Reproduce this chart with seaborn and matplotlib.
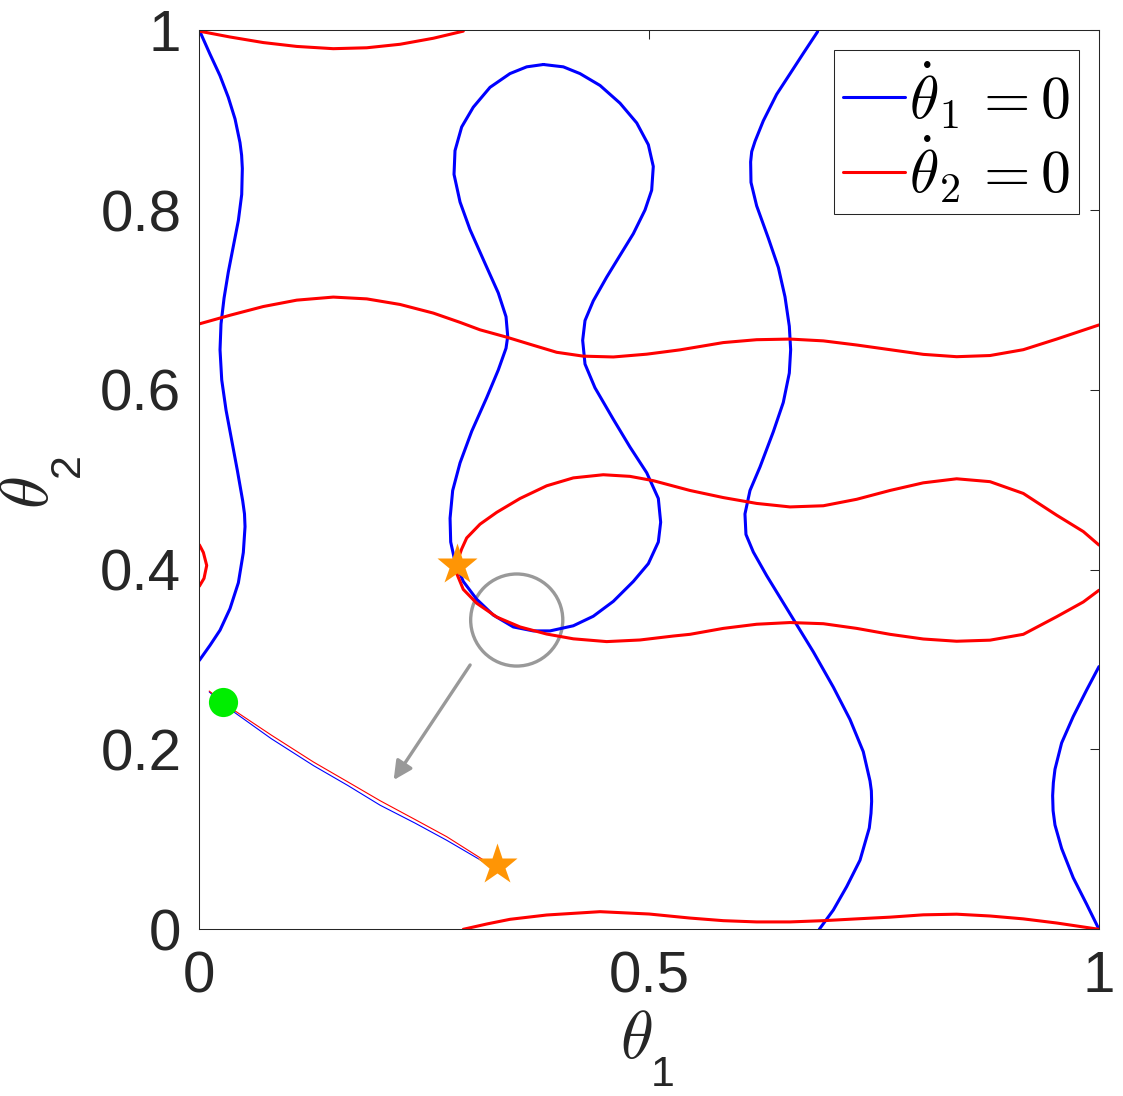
import matplotlib
matplotlib.use("Agg")
import matplotlib.pyplot as plt
from matplotlib.font_manager import FontProperties
from matplotlib.lines import Line2D
import seaborn as sns


# ======================
# Data (theta_1, theta_2 in [0, 1])
# ======================

# theta_1 dot = 0 (blue)
blue_left_x = [0.000, 0.0119, 0.0230, 0.0322, 0.0397, 0.0452, 0.0470, 0.0478, 0.0471, 0.0434,
               0.0378, 0.0322, 0.0275, 0.0241, 0.0230, 0.0249, 0.0297, 0.0360, 0.0423, 0.0482,
               0.0502, 0.0508, 0.0489, 0.0434, 0.0341, 0.0230, 0.0119, 0.000]
blue_left_y = [1.000, 0.9733, 0.9494, 0.9254, 0.9013, 0.8750, 0.8610, 0.8462, 0.8173, 0.7885,
               0.7598, 0.7310, 0.7022, 0.6734, 0.6446, 0.6110, 0.5774, 0.5438, 0.5102, 0.4766,
               0.4620, 0.4478, 0.4191, 0.3855, 0.3567, 0.3327, 0.3159, 0.2991]

blue_right_x = [1.000, 0.9863, 0.9714, 0.9585, 0.9511, 0.9493, 0.9485, 0.9490, 0.9511, 0.9585,
                0.9714, 0.9863, 1.000]
blue_right_y = [0.2922, 0.2662, 0.2367, 0.2073, 0.1780, 0.1630, 0.1486, 0.1320, 0.1160, 0.0899,
                0.0573, 0.0279, 0.000]

blue_mid_x = [0.6873, 0.6714, 0.6566, 0.6417, 0.6269, 0.6177, 0.6140, 0.6128, 0.6132, 0.6195,
              0.6325, 0.6436, 0.6510, 0.6558, 0.6573, 0.6558, 0.6491, 0.6380, 0.6232, 0.6121,
              0.6065, 0.6076, 0.6158, 0.6306, 0.6566, 0.6825, 0.7047, 0.7232, 0.7380, 0.7455,
              0.7470, 0.7473, 0.7466, 0.7447, 0.7344, 0.7196, 0.7047, 0.6891]
blue_mid_y = [0.9985, 0.9744, 0.9516, 0.9287, 0.8993, 0.8765, 0.8650, 0.8536, 0.8308, 0.8047,
              0.7687, 0.7362, 0.7035, 0.6708, 0.6447, 0.6187, 0.5860, 0.5534, 0.5142, 0.4881,
              0.4620, 0.4392, 0.4196, 0.3934, 0.3509, 0.3086, 0.2694, 0.2335, 0.1976, 0.1650,
              0.1540, 0.1422, 0.1290, 0.1127, 0.0769, 0.0475, 0.0214, 0.000]

blue_loop_x = [0.3824, 0.4046, 0.4231, 0.4454, 0.4676, 0.4862, 0.4991, 0.5046, 0.5028, 0.4954,
               0.4824, 0.4676, 0.4528, 0.4379, 0.4287, 0.4261, 0.4287, 0.4398, 0.4602, 0.4787,
               0.4973, 0.5102, 0.5128, 0.5102, 0.4991, 0.4824, 0.4602, 0.4379, 0.4157, 0.3898,
               0.3712, 0.3490, 0.3268, 0.3083, 0.2934, 0.2842, 0.2794, 0.2787, 0.2816, 0.2898,
               0.3028, 0.3194, 0.3323, 0.3409, 0.3428, 0.3409, 0.3323, 0.3175, 0.3009, 0.2898,
               0.2831, 0.2842, 0.2916, 0.3045, 0.3231, 0.3453, 0.3639, 0.3824]
blue_loop_y = [0.9619, 0.9593, 0.9518, 0.9386, 0.9189, 0.8969, 0.8727, 0.8485, 0.8221, 0.8001,
               0.7737, 0.7496, 0.7254, 0.6990, 0.6771, 0.6551, 0.6287, 0.6023, 0.5672, 0.5364,
               0.5078, 0.4792, 0.4528, 0.4308, 0.4067, 0.3869, 0.3648, 0.3482, 0.3376, 0.3319,
               0.3319, 0.3363, 0.3495, 0.3671, 0.3869, 0.4089, 0.4308, 0.4572, 0.4880, 0.5188,
               0.5540, 0.5913, 0.6221, 0.6463, 0.6595, 0.6814, 0.7078, 0.7408, 0.7782, 0.8089,
               0.8397, 0.8661, 0.8924, 0.9144, 0.9365, 0.9518, 0.9593, 0.9619]

# theta_2 dot = 0 (red)
red_top_x = [0.000, 0.0341, 0.0711, 0.1083, 0.1489, 0.1861, 0.2231, 0.2601, 0.2934]
red_top_y = [0.999, 0.9925, 0.9863, 0.9820, 0.9795, 0.9805, 0.9844, 0.9911, 0.999]

red_bottom_x = [0.2934, 0.3200, 0.3453, 0.3861, 0.4454, 0.5000, 0.5454, 0.5824, 0.6195, 0.6566,
                0.6936, 0.7307, 0.7677, 0.8047, 0.8418, 0.8789, 0.9159, 0.9530, 1.000]
red_bottom_y = [0.000, 0.0060, 0.0111, 0.0159, 0.0196, 0.0170, 0.0125, 0.0096, 0.0082, 0.0082,
                0.0096, 0.0116, 0.0135, 0.0161, 0.0168, 0.0148, 0.0116, 0.0070, 0.000]

red_upper_x = [0.000, 0.0341, 0.0711, 0.1083, 0.1489, 0.1861, 0.2231, 0.2601, 0.2900, 0.3120,
               0.3417, 0.3676, 0.3972, 0.4268, 0.4602, 0.4973, 0.5343, 0.5824, 0.6195, 0.6566,
               0.6936, 0.7307, 0.7677, 0.8047, 0.8418, 0.8789, 0.9159, 0.9530, 1.000]
red_upper_y = [0.6734, 0.6830, 0.6927, 0.6998, 0.7032, 0.7012, 0.6950, 0.6854, 0.6750, 0.6668,
               0.6586, 0.6507, 0.6418, 0.6375, 0.6366, 0.6397, 0.6445, 0.6526, 0.6558, 0.6565,
               0.6545, 0.6499, 0.6447, 0.6395, 0.6369, 0.6382, 0.6447, 0.6565, 0.6722]

red_loop_x = [1.000, 0.9826, 0.9530, 0.9159, 0.8789, 0.8418, 0.8047, 0.7677, 0.7307, 0.6936,
              0.6566, 0.6195, 0.5824, 0.5454, 0.5046, 0.4787, 0.4490, 0.4157, 0.3861, 0.3565,
              0.3306, 0.3120, 0.2972, 0.2916, 0.2870, 0.2845, 0.2861, 0.2934, 0.3083, 0.3306,
              0.3565, 0.3861, 0.4157, 0.4528, 0.4898, 0.5268, 0.5454, 0.5824, 0.6195, 0.6566,
              0.6936, 0.7307, 0.7677, 0.8047, 0.8418, 0.8789, 0.9159, 0.9530, 0.9826, 1.000]
red_loop_y = [0.4274, 0.4424, 0.4606, 0.4848, 0.4979, 0.5011, 0.4966, 0.4881, 0.4783, 0.4711,
              0.4698, 0.4737, 0.4802, 0.4881, 0.4990, 0.5038, 0.5056, 0.5021, 0.4933, 0.4792,
              0.4638, 0.4506, 0.4353, 0.4230, 0.4100, 0.4020, 0.3957, 0.3781, 0.3627, 0.3473,
              0.3363, 0.3284, 0.3231, 0.3200, 0.3218, 0.3262, 0.3281, 0.3347, 0.3393, 0.3412,
              0.3399, 0.3347, 0.3281, 0.3229, 0.3204, 0.3216, 0.3281, 0.3477, 0.3641, 0.3771]

red_edge_x = [0.000, 0.0045, 0.0082, 0.0052, 0.000]
red_edge_y = [0.4277, 0.4191, 0.4047, 0.3903, 0.3816]

# trajectory from the green start to the star
traj_blue_x = [0.011, 0.025, 0.038, 0.080, 0.127, 0.165, 0.201, 0.240, 0.275, 0.316, 0.331]
traj_blue_y = [0.264, 0.252, 0.242, 0.212, 0.182, 0.160, 0.138, 0.118, 0.099, 0.075, 0.068]
traj_red_x = [0.011, 0.025, 0.038, 0.080, 0.127, 0.165, 0.201, 0.240, 0.275, 0.316, 0.331]
traj_red_y = [0.265, 0.254, 0.244, 0.216, 0.186, 0.164, 0.143, 0.122, 0.103, 0.077, 0.069]

start_pt = (0.026, 0.2525)
star_x = [0.286, 0.331]
star_y = [0.405, 0.0715]

circle_center = (0.3528, 0.344)
circle_radius = 0.0512
arrow_from = (0.301, 0.294)
arrow_to = (0.216, 0.166)

x_ticks = [0, 0.5, 1]
x_ticklabels = ["0", "0.5", "1"]
y_ticks = [0, 0.2, 0.4, 0.6, 0.8, 1]
y_ticklabels = ["0", "0.2", "0.4", "0.6", "0.8", "1"]
legend_labels = [r"$\dot{\theta}_1\,=0$", r"$\dot{\theta}_2\,=0$"]


# ======================
# Style
# ======================

sns.set_theme(style="white")
plt.rcParams["font.family"] = ["Liberation Sans", "DejaVu Sans"]
plt.rcParams["text.color"] = "#262626"

fig = plt.figure(figsize=(11.23, 10.96), dpi=100)
ax = fig.add_axes([0.1775, 0.1521, 0.8011, 0.8203])

LW = 2.2

curves = [
    (blue_left_x, blue_left_y, "blue"),
    (blue_right_x, blue_right_y, "blue"),
    (blue_mid_x, blue_mid_y, "blue"),
    (blue_loop_x, blue_loop_y, "blue"),
    (red_top_x, red_top_y, "red"),
    (red_bottom_x, red_bottom_y, "red"),
    (red_upper_x, red_upper_y, "red"),
    (red_loop_x, red_loop_y, "red"),
    (red_edge_x, red_edge_y, "red"),
]

for xs, ys, col in curves:
    sns.lineplot(x=xs, y=ys, sort=False, estimator=None, color=col, lw=LW,
                 solid_joinstyle="round", solid_capstyle="round", ax=ax)

sns.lineplot(x=traj_blue_x, y=traj_blue_y, sort=False, estimator=None, color="blue",
             lw=0.8, ax=ax)
sns.lineplot(x=traj_red_x, y=traj_red_y, sort=False, estimator=None, color="red",
             lw=0.8, ax=ax)

ax.plot(start_pt[0], start_pt[1], "o", ms=21, color="#00ee00", mec="none", zorder=5)
ax.plot(star_x, star_y, "*", ms=31, color="#ff9505", mec="none", zorder=6, ls="none")

ax.add_patch(plt.Circle(circle_center, circle_radius, fill=False, ec="#999999", lw=2.4))
ax.annotate(
    "",
    xy=arrow_to,
    xytext=arrow_from,
    arrowprops=dict(arrowstyle="-|>", color="#999999", lw=2.4, mutation_scale=28,
                    shrinkA=0, shrinkB=0),
)

# ======================
# Axes
# ======================

ax.set_xlim(0, 1)
ax.set_ylim(0, 1)
ax.set_xticks(x_ticks)
ax.set_xticklabels(x_ticklabels)
ax.set_yticks(y_ticks)
ax.set_yticklabels(y_ticklabels)

ax.tick_params(direction="in", length=6.5, width=0.75, top=True, right=True,
               labelsize=42, colors="#262626")
ax.tick_params(axis="x", pad=15)
ax.tick_params(axis="y", pad=13)

for sp in ax.spines.values():
    sp.set_color("#262626")
    sp.set_linewidth(0.75)

# axis labels: italic theta with an upright sans subscript
theta_kw = dict(fontsize=48, color="#262626", math_fontfamily="cm")
sub_kw = dict(fontsize=31, color="#262626")

fig.text(636 / 1123, 1 - 1058 / 1096, r"$\theta$", ha="center", va="baseline", **theta_kw)
fig.text(650 / 1123, 1 - 1086 / 1096, r"$\mathregular{1}$", ha="left", va="baseline",
         **sub_kw)

fig.text(48 / 1123, 1 - 493 / 1096, r"$\theta$", ha="center", va="baseline",
         rotation=90, rotation_mode="anchor", **theta_kw)
fig.text(81 / 1123, 1 - 480 / 1096, r"$\mathregular{2}$", ha="left", va="baseline",
         rotation=90, rotation_mode="anchor", **sub_kw)

handles = [
    Line2D([], [], color="blue", lw=LW),
    Line2D([], [], color="red", lw=LW),
]
leg = ax.legend(
    handles,
    legend_labels,
    loc="upper right",
    prop=FontProperties(size=43, math_fontfamily="cm"),
    frameon=True,
    fancybox=False,
    framealpha=1,
    edgecolor="#262626",
    handlelength=1.03,
    handletextpad=0.08,
    borderpad=0.15,
    labelspacing=0.05,
    borderaxespad=0.33,
)
leg.get_frame().set_linewidth(0.75)
for t in leg.get_texts():
    t.set_color("black")

plt.savefig("out.png", dpi=100)
plt.close()
